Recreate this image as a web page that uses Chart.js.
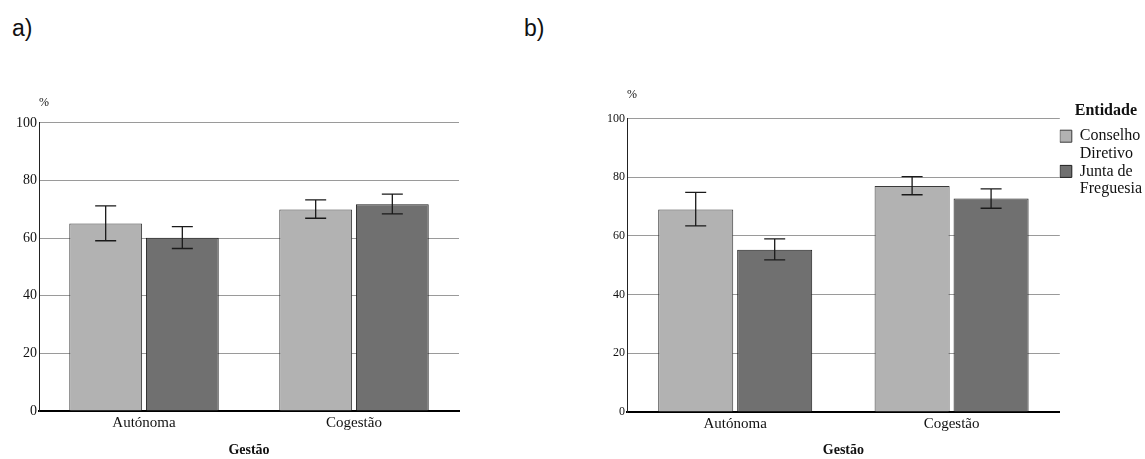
<!DOCTYPE html>
<html>
<head>
<meta charset="utf-8">
<script src="https://cdn.jsdelivr.net/npm/chart.js@4.4.1/dist/chart.umd.min.js"></script>
<style>
  html, body { margin: 0; padding: 0; background: #fff; overflow: hidden; }
  body { width: 1145px; height: 459px; position: relative; }
  .panel-tag {
    position: absolute;
    font-family: 'Liberation Sans', Arial, sans-serif;
    font-size: 23px;
    line-height: 1;
    color: #111;
  }
  canvas { position: absolute; }
</style>
</head>
<body>
<div class="panel-tag" style="left:12px; top:17px;">a)</div>
<div class="panel-tag" style="left:524px; top:17px;">b)</div>
<canvas id="chart-a" width="470" height="369" style="left:0; top:90px;"></canvas>
<canvas id="chart-b" width="565" height="374" style="left:580px; top:85px;"></canvas>
<script>
const categories = ['Autónoma', 'Cogestão'];
const seriesNames = [['Conselho', 'Diretivo'], ['Junta de', 'Freguesia']];
const yTicks = [0, 20, 40, 60, 80, 100];

// painel a)
const conselhoA = [65.1, 69.9];
const conselhoALow = [59.1, 66.9];
const conselhoAHigh = [71.2, 73.3];
const juntaA = [60.1, 71.8];
const juntaALow = [56.4, 68.4];
const juntaAHigh = [64.0, 75.3];

// painel b)
const conselhoB = [69.0, 77.0];
const conselhoBLow = [63.4, 74.0];
const conselhoBHigh = [74.8, 80.2];
const juntaB = [55.3, 72.7];
const juntaBLow = [51.8, 69.4];
const juntaBHigh = [59.0, 76.0];

const serif = "'Liberation Serif', 'Times New Roman', serif";
Chart.defaults.font.family = serif;
Chart.defaults.color = '#111';

const errorBars = {
    id: 'errorBars',
    afterDatasetsDraw(chart) {
        const { ctx } = chart;
        const y = chart.scales.y;
        ctx.save();
        ctx.strokeStyle = '#1a1a1a';
        ctx.lineWidth = 1.3;
        chart.data.datasets.forEach((ds, i) => {
            const meta = chart.getDatasetMeta(i);
            if (meta.hidden) return;
            meta.data.forEach((bar, j) => {
                const top = y.getPixelForValue(ds.high[j]);
                const bottom = y.getPixelForValue(ds.low[j]);
                const half = 10.5;
                ctx.beginPath();
                ctx.moveTo(bar.x, top);
                ctx.lineTo(bar.x, bottom);
                ctx.moveTo(bar.x - half, top);
                ctx.lineTo(bar.x + half, top);
                ctx.moveTo(bar.x - half, bottom);
                ctx.lineTo(bar.x + half, bottom);
                ctx.stroke();
            });
        });
        ctx.restore();
    },
};

function makeDatasets(conselho, cLow, cHigh, junta, jLow, jHigh, catPct) {
    return [
        {
            label: seriesNames[0],
            data: conselho,
            low: cLow,
            high: cHigh,
            backgroundColor: '#b2b2b2',
            borderColor: '#3a3a3a',
            borderWidth: 1,
            categoryPercentage: catPct,
            barPercentage: 0.95,
        },
        {
            label: seriesNames[1],
            data: junta,
            low: jLow,
            high: jHigh,
            backgroundColor: '#707070',
            borderColor: '#1c1c1c',
            borderWidth: 1,
            categoryPercentage: catPct,
            barPercentage: 0.95,
        },
    ];
}

function makeChart(id, datasets, cfg) {
    const canvas = document.getElementById(id);
    return new Chart(canvas.getContext('2d'), {
        type: 'bar',
        data: { labels: categories, datasets },
        plugins: [errorBars],
        options: {
            responsive: false,
            animation: false,
            layout: { padding: { top: 0, right: cfg.padRight, bottom: 0, left: 0 } },
            plugins: {
                tooltip: { enabled: false },
                title: {
                    display: true,
                    text: '%',
                    align: 'start',
                    fullSize: false,
                    color: '#111',
                    font: { family: serif, size: 12, weight: 'normal', lineHeight: 1.2 },
                    padding: cfg.pctPadding,
                },
                legend: cfg.legend,
            },
            scales: {
                x: {
                    grid: { display: false, drawTicks: false },
                    border: { display: true, color: '#000', width: 2 },
                    ticks: { padding: 3, font: { family: serif, size: 15 }, color: '#111' },
                    title: {
                        display: true,
                        text: 'Gestão',
                        font: { family: serif, size: 14, weight: 'bold' },
                        color: '#111',
                        padding: { top: 0, bottom: 0 },
                    },
                    afterFit: (scale) => { scale.height = cfg.xHeight; },
                },
                y: {
                    min: 0,
                    max: 100,
                    afterBuildTicks: (scale) => {
                        scale.ticks = yTicks.map((value) => ({ value }));
                    },
                    grid: {
                        drawTicks: false,
                        lineWidth: 1,
                        color: (ctx) => (ctx.tick && ctx.tick.value === 0 ? 'rgba(0,0,0,0)' : '#9a9a9a'),
                    },
                    border: { display: true, color: '#222', width: 1 },
                    ticks: { padding: 2, font: { family: serif, size: cfg.yFont }, color: '#111' },
                    afterFit: (scale) => { scale.width = cfg.yWidth; },
                },
            },
        },
    });
}

makeChart('chart-a',
    makeDatasets(conselhoA, conselhoALow, conselhoAHigh, juntaA, juntaALow, juntaAHigh, 0.73),
    {
        padRight: 11,
        yWidth: 39,
        xHeight: 48,
        yFont: 14,
        pctPadding: { top: 6, bottom: 12.5 },
        legend: { display: false },
    });

makeChart('chart-b',
    makeDatasets(conselhoB, conselhoBLow, conselhoBHigh, juntaB, juntaBLow, juntaBHigh, 0.73),
    {
        padRight: -7,
        yWidth: 47,
        xHeight: 47,
        yFont: 12,
        pctPadding: { top: 3, bottom: 16 },
        legend: {
            display: true,
            position: 'right',
            align: 'start',
            title: {
                display: true,
                text: 'Entidade',
                position: 'center',
                color: '#111',
                font: { family: serif, size: 16, weight: 'bold', lineHeight: 1.2 },
                padding: { top: 18, bottom: 6 },
            },
            labels: {
                boxWidth: 12,
                boxHeight: 12,
                padding: 0,
                color: '#111',
                font: { family: serif, size: 16, lineHeight: 1.1 },
            },
        },
    });
</script>
</body>
</html>
